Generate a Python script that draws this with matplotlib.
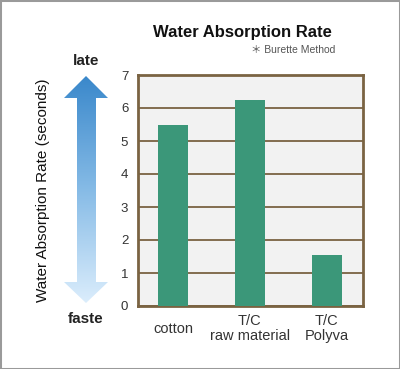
import numpy as np
import matplotlib.pyplot as plt
from matplotlib.patches import Polygon, Rectangle
from matplotlib.colors import LinearSegmentedColormap

plt.rcParams['font.family'] = ['Liberation Sans', 'Noto Sans CJK JP', 'DejaVu Sans']

materials = ["cotton", "T/C\nraw material", "T/C\nPolyva"]
seconds = [5.5, 6.25, 1.55]
yticks = [0, 1, 2, 3, 4, 5, 6, 7]

brown = "#7a6342"
green = "#3b9779"

fig = plt.figure(figsize=(4, 3.69), dpi=100)
fig.patch.set_facecolor("white")
fig.patches.append(Rectangle((0, 0), 1, 1, transform=fig.transFigure, fill=False,
                             edgecolor="#9a9a9a", lw=2.2, zorder=10))

# decoration layer in pixel coordinates
deco = fig.add_axes([0, 0, 1, 1], zorder=0)
deco.set_xlim(0, 400)
deco.set_ylim(369, 0)
deco.axis("off")

# gradient arrow
arrow = Polygon([(86, 76), (108, 98), (96, 98), (96, 282), (108, 282), (86, 303),
                 (64, 282), (77, 282), (77, 98), (64, 98)],
                closed=True, facecolor="none", edgecolor="none")
deco.add_patch(arrow)
cmap = LinearSegmentedColormap.from_list("arr", ["#3a88cb", "#86bbe6", "#dbedfc"])
grad = np.linspace(0, 1, 256).reshape(-1, 1)
im = deco.imshow(grad, cmap=cmap, extent=(64, 108, 303, 76), origin="upper",
                 aspect="auto", interpolation="bilinear")
im.set_clip_path(arrow)

deco.text(86, 61, "late", ha="center", va="center", fontsize=11, fontweight="bold", color="#222")
deco.text(86, 319, "faste", ha="center", va="center", fontsize=11, fontweight="bold", color="#222")
deco.text(43, 190, "Water Absorption Rate (seconds)", rotation=90, ha="center", va="center",
          fontsize=11, color="#111")
deco.text(242, 33, "Water Absorption Rate", ha="center", va="center", fontsize=12,
          fontweight="bold", color="#111")
deco.text(335, 50, "＊ Burette Method", ha="right", va="center", fontsize=7.5, color="#555")

ax = fig.add_axes([138 / 400, 63 / 369, 225 / 400, 231 / 369], zorder=1)
ax.set_facecolor("#f2f2f2")
x = np.arange(len(materials))
ax.bar(x, seconds, width=0.39, color=green, zorder=3)
ax.set_xlim(-0.455, 2.47)
ax.set_ylim(0, 7)
ax.set_yticks(yticks)
ax.set_yticklabels([str(v) for v in yticks])
ax.yaxis.grid(True, color=brown, lw=1.3, zorder=1)
ax.set_axisbelow(True)
for s in ax.spines.values():
    s.set_color(brown)
    s.set_linewidth(2)
ax.tick_params(axis="y", length=0, pad=7, labelsize=9.5, labelcolor="#333")
ax.set_xticks(x)
ax.set_xticklabels(materials, fontsize=10.5, color="#333", linespacing=1.1)
ax.tick_params(axis="x", length=0, pad=16.5)
for lab in ax.get_xticklabels():
    lab.set_va("center")

fig.savefig("out.png", dpi=100)
